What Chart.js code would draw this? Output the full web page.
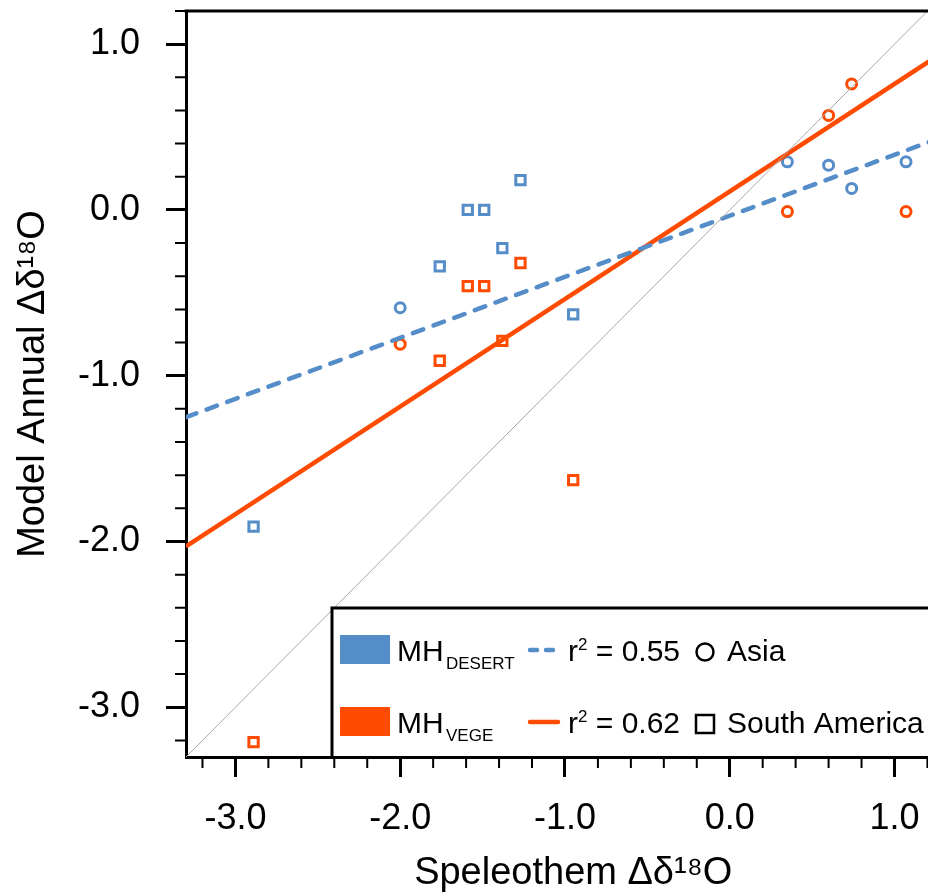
<!DOCTYPE html>
<html>
<head>
<meta charset="utf-8">
<script src="https://cdn.jsdelivr.net/npm/chart.js@4.4.1/dist/chart.umd.min.js"></script>
<style>
  html, body { margin: 0; padding: 0; background: #fff; }
  #wrap { width: 928px; height: 896px; overflow: hidden; }
</style>
</head>
<body>
<div id="wrap"><canvas id="myChart" width="970" height="896"></canvas></div>
<script>
// Asia sites (circles)
const asiaX = [-2.0, 0.35, 0.60, 0.74, 1.07];
const asiaDesert = [-0.59, 0.29, 0.27, 0.13, 0.29];
const asiaVege = [-0.81, -0.01, 0.57, 0.76, -0.01];
// South America sites (squares)
const samX = [-2.89, -1.76, -1.59, -1.49, -1.38, -1.27, -0.95];
const samDesert = [-1.91, -0.34, 0.00, 0.00, -0.23, 0.18, -0.63];
const samVege = [-3.21, -0.91, -0.46, -0.46, -0.79, -0.32, -1.63];
// regression lines and 1:1 line, end points
const fitX = [-3.3, 1.4];
const desertFitY = [-1.25, 0.48];
const vegeFitY = [-2.03, 1.02];
const oneToOneY = [-3.3, 1.4];
const desertR2 = '0.55';
const vegeR2 = '0.62';

const xMajorTicks = [-3, -2, -1, 0, 1];
const xMinorTicks = [-3.2, -2.8, -2.6, -2.4, -2.2, -1.8, -1.6, -1.4, -1.2, -0.8, -0.6, -0.4, -0.2, 0.2, 0.4, 0.6, 0.8, 1.2];
const yMajorTicks = [-3, -2, -1, 0, 1];
const yMinorTicks = [1.2, 0.8, 0.6, 0.4, 0.2, -0.2, -0.4, -0.6, -0.8, -1.2, -1.4, -1.6, -1.8, -2.2, -2.4, -2.6, -2.8, -3.2];

const BLUE = '#548dc8';
const ORANGE = '#ff4b00';
const FONT = '"Liberation Sans", Arial, Helvetica, sans-serif';

Chart.defaults.font.family = FONT;
Chart.defaults.color = '#000';

function pts(xs, ys) {
  return xs.map((x, i) => ({x: x, y: ys[i]}));
}

function noPad(s) {
  s.paddingTop = 0;
  s.paddingBottom = 0;
  s.paddingLeft = 0;
  s.paddingRight = 0;
}

const frame = {
  id: 'frame',
  afterDraw(chart) {
    const {ctx, chartArea, scales: {x, y}} = chart;
    const left = chartArea.left, right = chartArea.right, top = chartArea.top, bottom = chartArea.bottom;
    ctx.save();
    ctx.strokeStyle = '#000';
    ctx.lineWidth = 3;
    ctx.beginPath();
    ctx.moveTo(left - 1.5, top);
    ctx.lineTo(right, top);
    ctx.lineTo(right, bottom);
    ctx.stroke();

    // minor ticks
    ctx.lineWidth = 2;
    ctx.beginPath();
    xMinorTicks.forEach(v => {
      const px = x.getPixelForValue(v);
      ctx.moveTo(px, bottom);
      ctx.lineTo(px, bottom + 11);
    });
    yMinorTicks.forEach(v => {
      const py = y.getPixelForValue(v);
      ctx.moveTo(left, py);
      ctx.lineTo(left - 11, py);
    });
    ctx.stroke();

    // legend box
    const bx = 332, by = 608;
    ctx.fillStyle = '#fff';
    ctx.fillRect(bx, by, right + 10 - bx, bottom - 1.5 - by);
    ctx.lineWidth = 3;
    ctx.beginPath();
    ctx.moveTo(bx, bottom);
    ctx.lineTo(bx, by);
    ctx.lineTo(right + 10, by);
    ctx.stroke();

    const rows = [
      {base: 661, color: BLUE, sub: 'DESERT', dash: [7, 9], r2: desertR2, marker: 'circle', region: 'Asia'},
      {base: 733, color: ORANGE, sub: 'VEGE', dash: [], r2: vegeR2, marker: 'rect', region: 'South America'}
    ];
    rows.forEach(r => {
      ctx.fillStyle = r.color;
      ctx.fillRect(340, r.base - 26, 50, 29);
      ctx.fillStyle = '#000';
      ctx.textBaseline = 'alphabetic';
      ctx.textAlign = 'left';
      ctx.font = '30px ' + FONT;
      ctx.fillText('MH', 397, r.base);
      ctx.font = '17px ' + FONT;
      ctx.fillText(r.sub, 446, r.base + 8);

      ctx.strokeStyle = r.color;
      ctx.lineWidth = 4.5;
      ctx.lineCap = 'round';
      ctx.setLineDash(r.dash);
      ctx.beginPath();
      ctx.moveTo(530, r.base - 11);
      ctx.lineTo(558, r.base - 11);
      ctx.stroke();
      ctx.setLineDash([]);
      ctx.lineCap = 'butt';

      ctx.font = '30px ' + FONT;
      ctx.fillText('r', 568, r.base);
      let cx = 568 + ctx.measureText('r').width;
      ctx.font = '17px ' + FONT;
      ctx.fillText('2', cx, r.base - 11);
      cx += ctx.measureText('2').width;
      ctx.font = '30px ' + FONT;
      ctx.fillText(' = ' + r.r2, cx, r.base);

      ctx.strokeStyle = '#000';
      ctx.lineWidth = 2.5;
      ctx.beginPath();
      if (r.marker === 'circle') {
        ctx.arc(705, r.base - 9, 8.5, 0, Math.PI * 2);
      } else {
        ctx.rect(696, r.base - 18, 18, 18);
      }
      ctx.stroke();
      ctx.fillText(r.region, 727, r.base);
    });
    ctx.restore();
  }
};

const chart = new Chart('myChart', {
  type: 'scatter',
  data: {
    datasets: [
      {label: '1:1', data: pts(fitX, oneToOneY), showLine: true, borderColor: '#a8a8a8', borderWidth: 1, pointRadius: 0},
      {label: 'MH DESERT fit', data: pts(fitX, desertFitY), showLine: true, borderColor: BLUE, borderWidth: 4.5,
        borderDash: [11, 11], borderCapStyle: 'round', pointRadius: 0},
      {label: 'MH VEGE fit', data: pts(fitX, vegeFitY), showLine: true, borderColor: ORANGE, borderWidth: 4.5, pointRadius: 0},
      {label: 'MH DESERT Asia', data: pts(asiaX, asiaDesert), pointStyle: 'circle', pointRadius: 5,
        borderColor: BLUE, backgroundColor: 'rgba(0,0,0,0)', borderWidth: 3},
      {label: 'MH VEGE Asia', data: pts(asiaX, asiaVege), pointStyle: 'circle', pointRadius: 5,
        borderColor: ORANGE, backgroundColor: 'rgba(0,0,0,0)', borderWidth: 3},
      {label: 'MH DESERT South America', data: pts(samX, samDesert), pointStyle: 'rect', pointRadius: 6.6,
        borderColor: BLUE, backgroundColor: 'rgba(0,0,0,0)', borderWidth: 3},
      {label: 'MH VEGE South America', data: pts(samX, samVege), pointStyle: 'rect', pointRadius: 6.6,
        borderColor: ORANGE, backgroundColor: 'rgba(0,0,0,0)', borderWidth: 3}
    ]
  },
  options: {
    responsive: false,
    animation: false,
    events: [],
    layout: {padding: {top: 11, right: 4, left: 0, bottom: 0}},
    plugins: {legend: {display: false}, tooltip: {enabled: false}},
    scales: {
      x: {
        type: 'linear', min: -3.3, max: 1.4,
        afterBuildTicks: s => { s.ticks = xMajorTicks.map(v => ({value: v})); },
        afterFit: s => { s.height = 139; noPad(s); },
        grid: {display: true, drawOnChartArea: false, drawTicks: true, tickLength: 20, tickWidth: 3, tickColor: '#000', color: '#000'},
        border: {display: true, width: 3, color: '#000'},
        ticks: {autoSkip: false, maxRotation: 0, padding: 20, font: {size: 36}, callback: v => v.toFixed(1)},
        title: {display: true, text: 'Speleothem Δδ¹⁸O', font: {size: 38}, padding: {top: 0, bottom: 0}}
      },
      y: {
        type: 'linear', min: -3.3, max: 1.2,
        afterBuildTicks: s => { s.ticks = yMajorTicks.map(v => ({value: v})); },
        afterFit: s => { s.width = 186; noPad(s); },
        grid: {display: true, drawOnChartArea: false, drawTicks: true, tickLength: 20, tickWidth: 3, tickColor: '#000', color: '#000'},
        border: {display: true, width: 3, color: '#000'},
        ticks: {autoSkip: false, padding: 26, font: {size: 36}, callback: v => v.toFixed(1)},
        title: {display: true, text: 'Model Annual Δδ¹⁸O', font: {size: 38}, padding: {top: 11, bottom: 0}}
      }
    }
  },
  plugins: [frame]
});
</script>
</body>
</html>
